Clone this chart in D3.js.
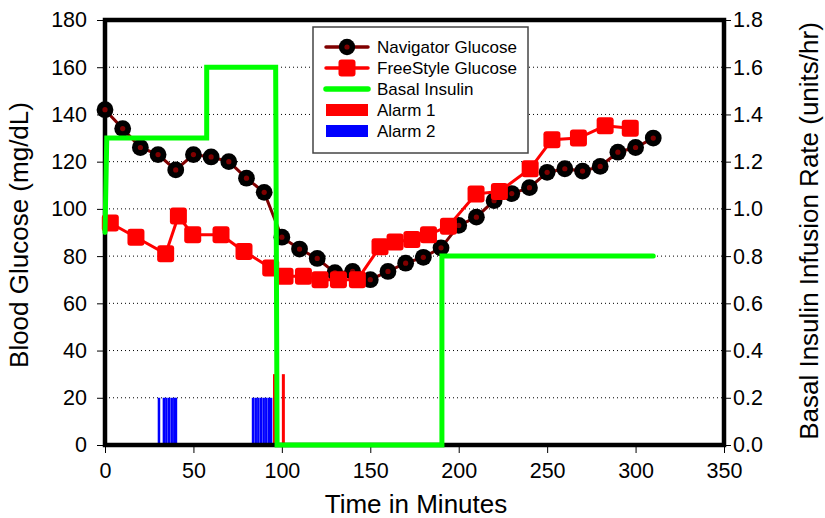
<!DOCTYPE html>
<html><head><meta charset="utf-8">
<script src="https://cdn.jsdelivr.net/npm/d3@7"></script>
<style>
body{margin:0;background:#fff;}
text{font-family:Arial,"Liberation Sans",sans-serif;fill:#000;}
</style></head>
<body><svg id="c" width="825" height="518"></svg>
<script>
// ---- data ----
const navTimes = [0,10,20,30,40,50,60,70,80,90,100,110,120,130,140,150,160,170,180,190,200,210,220,230,240,250,260,270,280,290,300,310];
const navGlucose = [142,134,126,123,116.5,123,122,120,113,107,88,83,79,73,73.5,70,73.5,77,79.5,83.5,93,96.5,103.5,106.5,109,115.5,117,116,118,124,126,130];
const fsTimes = [3,17.5,34.3,41.5,49.6,65.6,78.6,93.7,101.8,112.2,121.6,132,142.7,155.5,164,173.5,182.9,194.2,209.8,223,240.4,252.7,267.7,282.8,297];
const fsGlucose = [94,88,81,97,89,89,82,75,71.5,71.5,70,70,70,84,86,87,89,92.7,106.3,107.4,117,129.3,130,135.2,134.2];
const basalTimes = [0,1,57.5,57.5,96.5,97.3,190.5,190.5,310];
const basalRates = [0.9,1.3,1.3,1.6,1.6,0,0,0.8,0.8];
const alarm1Times = [95,100];
const alarm1Level = 30;
const alarm2Times = [29.8,32.6,34,35.5,37,38.5,39.4,83,84.5,86,87.5,89,90.5,92,93.2];
const alarm2Level = 20;
const xTicks = [0,50,100,150,200,250,300,350];
const yTicks = [0,20,40,60,80,100,120,140,160,180];
const y2Ticks = [0,0.2,0.4,0.6,0.8,1.0,1.2,1.4,1.6,1.8];
const legendLabels = ["Navigator Glucose","FreeStyle Glucose","Basal Insulin","Alarm 1","Alarm 2"];

// ---- layout ----
const svg = d3.select("#c");
const L=105, R=724, T=20, B=445;
const x = d3.scaleLinear().domain([0,350]).range([L,R]);
const y = d3.scaleLinear().domain([0,180]).range([B,T]);
const y2 = d3.scaleLinear().domain([0,1.8]).range([B,T]);
const darkRed = "#800000", red="#ff0000", green="#00ff00", blue="#0000ff";

// grid
svg.append("g").selectAll("line").data(yTicks.filter(d=>d>0&&d<180)).join("line")
  .attr("x1",L).attr("x2",R).attr("y1",d=>y(d)).attr("y2",d=>y(d))
  .attr("stroke","#000").attr("stroke-width",1).attr("stroke-dasharray","1,3");

// alarms
const a2w = 1.42, a1w = 1.7;
svg.append("g").selectAll("rect").data(alarm2Times).join("rect")
  .attr("x",d=>x(d)).attr("width",x(a2w)-x(0))
  .attr("y",y(alarm2Level)).attr("height",y(0)-y(alarm2Level)).attr("fill",blue);
svg.append("g").selectAll("rect").data(alarm1Times).join("rect")
  .attr("x",d=>x(d)).attr("width",x(a1w)-x(0))
  .attr("y",y(alarm1Level)).attr("height",y(0)-y(alarm1Level)).attr("fill",red);

// axes
const fs = "21.5px";
const gl = svg.append("g").attr("transform",`translate(${L-2},0)`)
  .call(d3.axisLeft(y).tickValues(yTicks).tickSize(6).tickPadding(10).tickFormat(d3.format("d")));
const gr = svg.append("g").attr("transform",`translate(${R+2},0)`)
  .call(d3.axisRight(y2).tickValues(y2Ticks).tickSize(5).tickPadding(2).tickFormat(d3.format(".1f")));
const gb = svg.append("g").attr("transform",`translate(0,${B+2})`)
  .call(d3.axisBottom(x).tickValues(xTicks).tickSize(6).tickPadding(10).tickFormat(d3.format("d")));
[gl,gr,gb].forEach(g=>{
  g.select(".domain").remove();
  g.selectAll("line").attr("stroke","#000").attr("stroke-width",1);
  g.selectAll("text").style("font-size",fs).style("font-family","Arial, 'Liberation Sans', sans-serif").attr("fill","#000");
});

// frame
svg.append("rect").attr("x",L).attr("y",T).attr("width",R-L).attr("height",B-T)
  .attr("fill","none").attr("stroke","#000").attr("stroke-width",4.5);

// navigator
svg.append("path").datum(navTimes.map((t,i)=>[t,navGlucose[i]]))
  .attr("d",d3.line().x(d=>x(d[0])).y(d=>y(d[1])))
  .attr("fill","none").attr("stroke",darkRed).attr("stroke-width",3);
const ng = svg.append("g").selectAll("g").data(navTimes.map((t,i)=>[t,navGlucose[i]])).join("g")
  .attr("transform",d=>`translate(${x(d[0])},${y(d[1])})`);
ng.append("circle").attr("r",8.4).attr("fill","#000");
ng.append("circle").attr("r",2.6).attr("fill",darkRed);

// freestyle
svg.append("path").datum(fsTimes.map((t,i)=>[t,fsGlucose[i]]))
  .attr("d",d3.line().x(d=>x(d[0])).y(d=>y(d[1])))
  .attr("fill","none").attr("stroke",red).attr("stroke-width",3);
const sq=17;
svg.append("g").selectAll("rect").data(fsTimes.map((t,i)=>[t,fsGlucose[i]])).join("rect")
  .attr("x",d=>x(d[0])-sq/2).attr("y",d=>y(d[1])-sq/2).attr("width",sq).attr("height",sq)
  .attr("rx",3).attr("fill",red);

// basal insulin
svg.append("path").datum(basalTimes.map((t,i)=>[t,basalRates[i]]))
  .attr("d",d3.line().x(d=>x(d[0])).y(d=>y2(d[1])))
  .attr("fill","none").attr("stroke",green).attr("stroke-width",5)
  .attr("stroke-linecap","round").attr("stroke-linejoin","miter");

// axis titles
svg.append("text").attr("transform","translate(28,235) rotate(-90)").attr("text-anchor","middle")
  .style("font-size","26px").text("Blood Glucose (mg/dL)");
svg.append("text").attr("transform","translate(818,231) rotate(-90)").attr("text-anchor","middle")
  .style("font-size","26px").text("Basal Insulin Infusion Rate (units/hr)");
svg.append("text").attr("x",416).attr("y",513).attr("text-anchor","middle")
  .style("font-size","26px").text("Time in Minutes");

// legend
const lg = svg.append("g");
lg.append("rect").attr("x",313).attr("y",27).attr("width",215).attr("height",126)
  .attr("fill","#fff").attr("stroke","#444").attr("stroke-width",1.5);
const ly = [47,68,89,110,131];
const sx1=326, sx2=368, sxm=347;
// nav
lg.append("line").attr("x1",sx1).attr("x2",sx2).attr("y1",ly[0]).attr("y2",ly[0]).attr("stroke",darkRed).attr("stroke-width",3.5).attr("stroke-linecap","round");
lg.append("circle").attr("cx",sxm).attr("cy",ly[0]).attr("r",8.2).attr("fill","#000");
lg.append("circle").attr("cx",sxm).attr("cy",ly[0]).attr("r",2.6).attr("fill",darkRed);
// fs
lg.append("line").attr("x1",sx1).attr("x2",sx2).attr("y1",ly[1]).attr("y2",ly[1]).attr("stroke",red).attr("stroke-width",3.5).attr("stroke-linecap","round");
lg.append("rect").attr("x",sxm-sq/2).attr("y",ly[1]-sq/2).attr("width",sq).attr("height",sq).attr("rx",3).attr("fill",red);
// basal
lg.append("line").attr("x1",sx1).attr("x2",sx2).attr("y1",ly[2]).attr("y2",ly[2]).attr("stroke",green).attr("stroke-width",5.5).attr("stroke-linecap","round");
// alarms
lg.append("rect").attr("x",sx1).attr("y",ly[3]-6).attr("width",sx2-sx1).attr("height",12).attr("fill",red);
lg.append("rect").attr("x",sx1).attr("y",ly[4]-6).attr("width",sx2-sx1).attr("height",12).attr("fill",blue);
lg.selectAll("text.lt").data(legendLabels).join("text").attr("class","lt")
  .attr("x",377).attr("y",(d,i)=>ly[i]).attr("dy","0.36em").style("font-size","17px").text(d=>d);
</script></body></html>
